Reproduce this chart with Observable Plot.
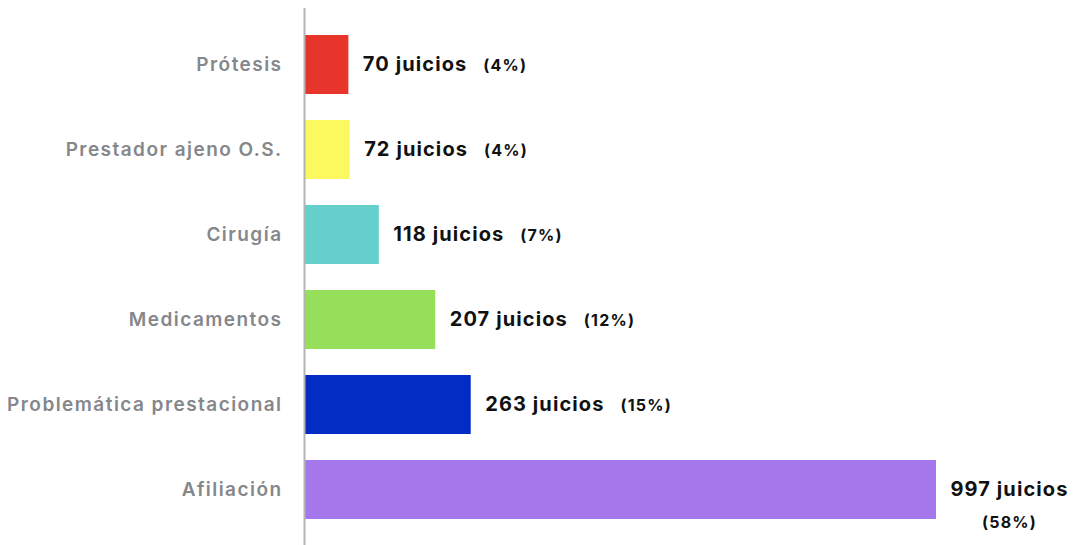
<!DOCTYPE html>
<html>
<head>
<meta charset="utf-8">
<script src="https://cdn.jsdelivr.net/npm/d3@7"></script>
<script src="https://cdn.jsdelivr.net/npm/@observablehq/plot@0.6"></script>
<style>
  html, body { margin: 0; padding: 0; background: #fff; }
  #chart { width: 1076px; height: 545px; }
</style>
</head>
<body>
<div id="chart"></div>
<script>
const categories = ["Prótesis", "Prestador ajeno O.S.", "Cirugía", "Medicamentos", "Problemática prestacional", "Afiliación"];
const juicios = [70, 72, 118, 207, 263, 997];
const percents = ["4%", "4%", "7%", "12%", "15%", "58%"];
const colors = ["#e8352b", "#fbf95e", "#64cfcb", "#96df5b", "#022cc4", "#a477ea"];

const data = categories.map((c, i) => ({cat: c, value: juicios[i], pct: percents[i], color: colors[i]}));
const maxValue = d3.max(juicios);
const FONT = "Inter, 'Open Sans', sans-serif";

const chart = Plot.plot({
  width: 1076,
  height: 545,
  marginLeft: 304,
  marginRight: 140,
  marginTop: 8,
  marginBottom: 0,
  style: {background: "#fff"},
  x: {domain: [0, 997], axis: null},
  y: {domain: categories, padding: 0.31, label: null, tickSize: 0, tickPadding: 22},
  marks: [
    Plot.barX(data, {x: "value", y: "cat", fill: "color"}),
    Plot.ruleX([0], {stroke: "#b4b4b4", strokeWidth: 2}),
    Plot.axisY({tickSize: 0, tickPadding: 22, fontSize: 19, fill: "#85878b", fontWeight: 600, label: null, fontFamily: FONT}),
    Plot.text(data, {
      x: "value", y: "cat",
      text: d => `${d.value} juicios`,
      dx: 14, textAnchor: "start",
      fontSize: 20, fontWeight: 700, fill: "#111",
      fontFamily: FONT
    })
  ]
});

document.getElementById("chart").appendChild(chart);

// widen the axis labels slightly
d3.select(chart).selectAll("g[aria-label='y-axis tick label'] text")
  .style("letter-spacing", "1.45px");

// Add the percentage part as a smaller bold tspan
d3.select(chart).selectAll("g[aria-label='text'] text").each(function(_, i) {
  const d = data[i];
  const t = d3.select(this).style("letter-spacing", "1.1px");
  if (d.value === maxValue) {
    const bb = this.getBBox();
    d3.select(this.parentNode).append("text")
      .attr("transform", t.attr("transform"))
      .attr("x", bb.x + bb.width / 2)
      .attr("y", t.attr("y"))
      .attr("dy", "2.05em")
      .attr("text-anchor", "middle")
      .attr("font-size", 16)
      .attr("font-weight", 700)
      .attr("fill", "#111")
      .attr("font-family", FONT)
      .style("letter-spacing", "1.2px")
      .text(`(${d.pct})`);
  } else {
    t.append("tspan")
      .attr("dx", 16)
      .attr("font-size", 16)
      .style("letter-spacing", "1.2px")
      .text(`(${d.pct})`);
  }
});
</script>
</body>
</html>
